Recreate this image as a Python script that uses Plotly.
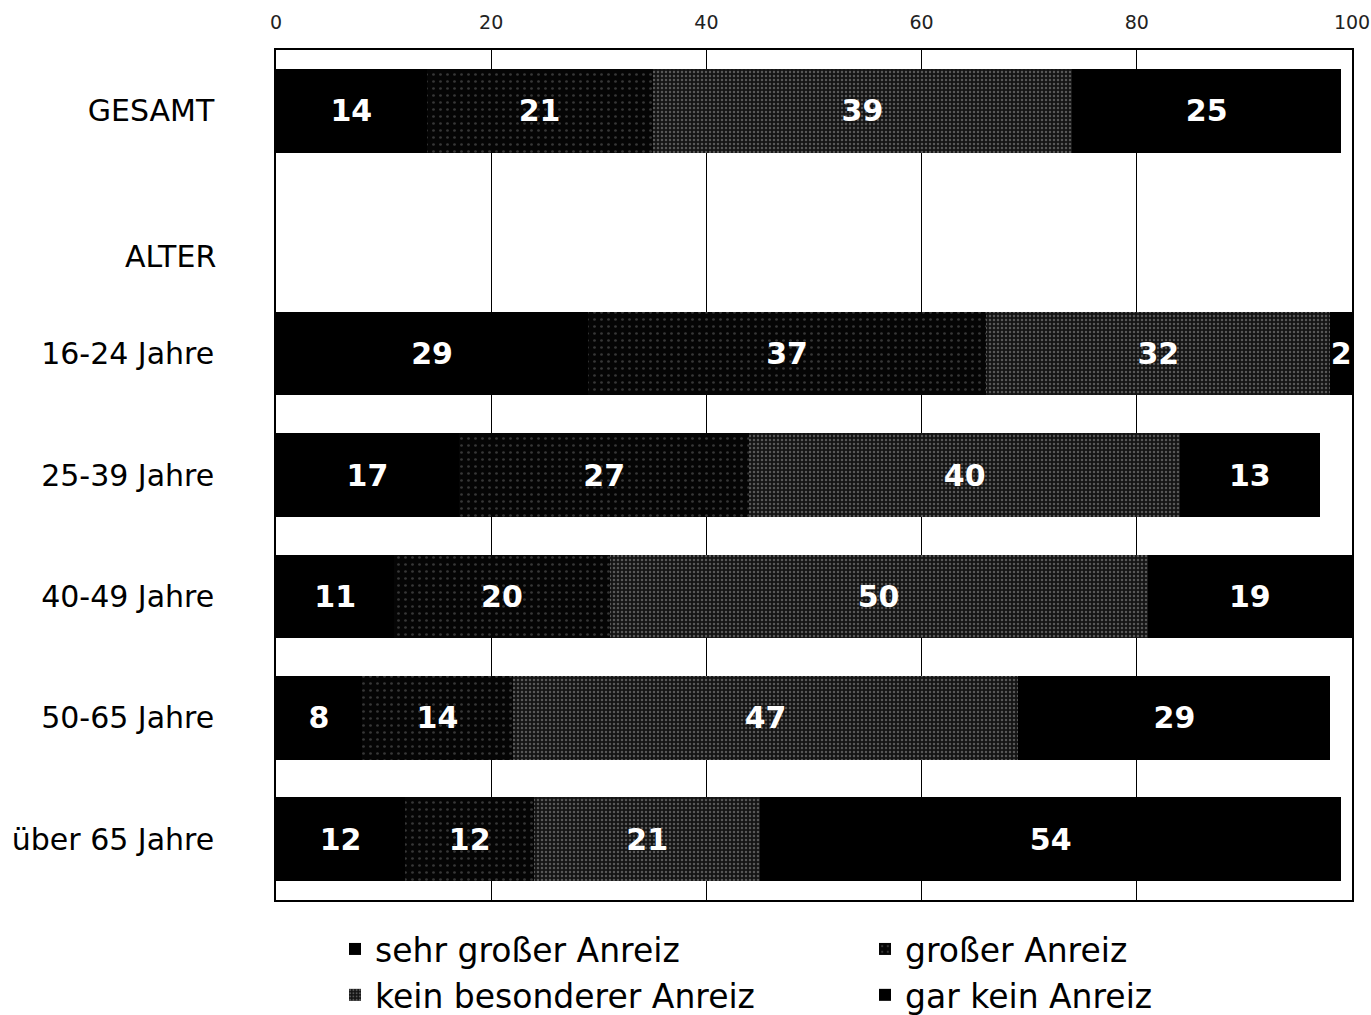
import plotly.graph_objects as go

categories = ["GESAMT", "ALTER", "16-24 Jahre", "25-39 Jahre", "40-49 Jahre", "50-65 Jahre", "über 65 Jahre"]
series_names = ["sehr großer Anreiz", "großer Anreiz", "kein besonderer Anreiz", "gar kein Anreiz"]
sehr_gross = [14, None, 29, 17, 11, 8, 12]
gross = [21, None, 37, 27, 20, 14, 12]
kein_besonderer = [39, None, 32, 40, 50, 47, 21]
gar_kein = [25, None, 2, 13, 19, 29, 54]
x_ticks = [0, 20, 40, 60, 80, 100]

series_values = [sehr_gross, gross, kein_besonderer, gar_kein]
legend_ids = ["legend", "legend2", "legend", "legend2"]
styles = [
    dict(color="#000000"),
    dict(color="#0a0a0a", pattern=dict(shape=".", bgcolor="#050505", fgcolor="#6a6a6a", size=7, solidity=0.12)),
    dict(color="#1a1a1a", pattern=dict(shape=".", bgcolor="#141414", fgcolor="#9a9a9a", size=4, solidity=0.3)),
    dict(color="#000000"),
]

font_family = "DejaVu Sans, Verdana, sans-serif"

fig = go.Figure()
for name, vals, st, lg in zip(series_names, series_values, styles, legend_ids):
    fig.add_trace(go.Bar(
        y=categories, x=vals, name=name, orientation="h",
        legend=lg, legendgroup=name,
        marker=dict(line=dict(width=0), **st),
        text=[("" if v is None else str(v)) for v in vals],
        textposition="inside", insidetextanchor="middle", textangle=0,
        constraintext="none",
        textfont=dict(family=font_family, size=30, color="white", weight="bold"),
        hoverinfo="skip",
    ))

legend_common = dict(
    orientation="v", xref="container", yref="container",
    xanchor="left", yanchor="top", y=1 - 921 / 1015,
    font=dict(family=font_family, size=33, color="black"),
    traceorder="normal", tracegroupgap=7, bgcolor="rgba(0,0,0,0)",
)

tick_labels = [("" if c == "ALTER" else c) for c in categories]

fig.update_layout(
    barmode="stack", bargap=0.31,
    width=1371, height=1015,
    margin=dict(l=276, r=19, t=50, b=115, autoexpand=False),
    paper_bgcolor="white", plot_bgcolor="white",
    font=dict(family=font_family, color="black"),
    uniformtext=dict(minsize=28, mode="show"),
    showlegend=True,
    legend=dict(x=335 / 1371, **legend_common),
    legend2=dict(x=865 / 1371, **legend_common),
    annotations=[dict(
        x=0, xref="paper", xanchor="right", xshift=-58,
        y="ALTER", yref="y", yshift=-24, yanchor="middle",
        text="ALTER", showarrow=False,
        font=dict(family=font_family, size=30, color="black"),
    )],
)
fig.update_xaxes(
    side="top", range=[0, 100], tickvals=x_ticks, ticktext=[str(t) for t in x_ticks],
    showgrid=True, gridcolor="black", gridwidth=1,
    showline=True, mirror=True, linecolor="black", linewidth=1.5,
    ticks="", tickfont=dict(size=19, color="#222222"), ticklabelstandoff=12,
    zeroline=False, fixedrange=True, automargin=False,
)
fig.update_yaxes(
    autorange="reversed", showgrid=False,
    tickvals=categories, ticktext=tick_labels,
    showline=True, mirror=True, linecolor="black", linewidth=1.5,
    ticks="", tickfont=dict(size=30, color="black"), ticklabelstandoff=54,
    fixedrange=True, automargin=False,
)

fig.write_html("out.html")
